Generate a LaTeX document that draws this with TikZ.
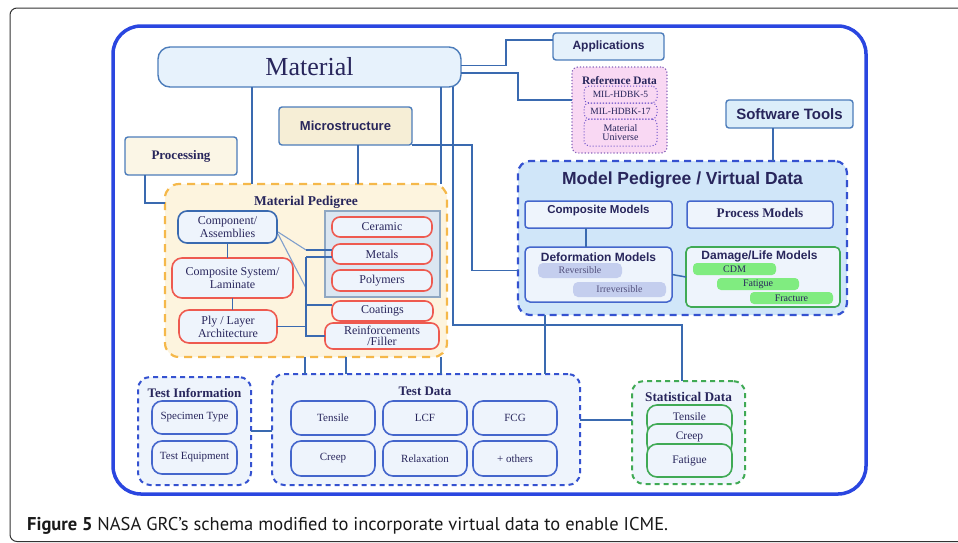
\documentclass[tikz,border=0pt]{standalone}
\usepackage{fontspec}
\setmainfont{Liberation Serif}
\setsansfont{Liberation Sans}
\newfontfamily\capfont{PT Sans}
\usetikzlibrary{calc}

\definecolor{ink}{HTML}{28265C}
\definecolor{outerblue}{HTML}{2A46E0}
\definecolor{lnk}{HTML}{3A6AB0}
\definecolor{bord}{HTML}{4C7CBA}
\definecolor{matfill}{HTML}{E7F2FC}
\definecolor{microfill}{HTML}{F6EED6}
\definecolor{procfill}{HTML}{FBF6E6}
\definecolor{appfill}{HTML}{E5F1FB}
\definecolor{swfill}{HTML}{DCEEFA}
\definecolor{reffill}{HTML}{F9D8F3}
\definecolor{refbord}{HTML}{8866BB}
\definecolor{mpvfill}{HTML}{D0E6F9}
\definecolor{dashblue}{HTML}{3552D0}
\definecolor{paleblue}{HTML}{EEF4FC}
\definecolor{modbord}{HTML}{4466CC}
\definecolor{greenbord}{HTML}{40AA55}
\definecolor{pillgreen}{HTML}{80EC80}
\definecolor{pillblue}{HTML}{C4CEEE}
\definecolor{orangedash}{HTML}{F5B84A}
\definecolor{mpdfill}{HTML}{FDF4DE}
\definecolor{redbord}{HTML}{EE5A50}
\definecolor{grayfill}{HTML}{DBE6F1}
\definecolor{graybord}{HTML}{8FA7C2}
\definecolor{framegray}{HTML}{333333}

% box given by its corners: style, x1, y1, x2, y2, name
\newcommand\rbox[6]{\node[#1,minimum width={(#4)-(#2)},minimum height={(#5)-(#3)}] (#6) at ({((#2)+(#4))/2},{((#3)+(#5))/2})}

\tikzset{
  base/.style={inner sep=0pt, outer sep=0pt, text=ink, align=center},
  conn/.style={draw=lnk, line width=1.5pt},
  diag/.style={draw=lnk!65!white, line width=1.1pt},
  serifsz/.style={font=\fontsize{#1}{#1}\selectfont},
  boldserif/.style={font=\bfseries\fontsize{#1}{#1}\selectfont},
  boldsans/.style={font=\sffamily\bfseries\fontsize{#1}{#1}\selectfont},
  matbox/.style={base, draw=bord, fill=matfill, line width=1.4pt, rounded corners=12pt},
  topbox/.style={base, draw=bord, line width=1.4pt, rounded corners=3pt},
  refbox/.style={base, draw=refbord, fill=reffill, line width=1.2pt, dotted, rounded corners=6pt},
  refitem/.style={base, draw=refbord!80!blue, line width=1pt, dotted, rounded corners=5pt, serifsz=9.5},
  mpvbox/.style={base, draw=dashblue, fill=mpvfill, line width=2.2pt, dash pattern=on 7pt off 5pt, rounded corners=12pt},
  modbox/.style={base, draw=modbord, fill=paleblue, line width=1.5pt, rounded corners=3pt},
  dlbox/.style={base, draw=greenbord, fill=paleblue, line width=1.6pt, rounded corners=5pt},
  bpill/.style={base, fill=pillblue, rounded corners=5pt, serifsz=10, text=ink!80!white},
  gpill/.style={base, fill=pillgreen, rounded corners=4pt, serifsz=10},
  mpdbox/.style={base, draw=orangedash, fill=mpdfill, line width=2.2pt, dash pattern=on 8pt off 6pt, rounded corners=14pt},
  bluebox/.style={base, draw=bord, fill=paleblue, line width=1.6pt, rounded corners=9pt, serifsz=12},
  redbox/.style={base, draw=redbord, fill=paleblue, line width=1.6pt, rounded corners=8pt, serifsz=12},
  graybox/.style={base, draw=graybord, fill=grayfill, line width=1.2pt},
  tbox/.style={base, draw=dashblue, fill=paleblue, line width=2pt, dash pattern=on 5pt off 4pt, rounded corners=12pt},
  titem/.style={base, draw=modbord, fill=paleblue, line width=1.6pt, rounded corners=10pt, serifsz=11},
  sbox/.style={base, draw=greenbord, fill=paleblue, line width=2pt, dash pattern=on 5pt off 4pt, rounded corners=12pt},
  sitem/.style={base, draw=greenbord, fill=paleblue, line width=1.6pt, rounded corners=10pt, serifsz=11.5},
}

\begin{document}
\begin{tikzpicture}[x=1pt,y=-1pt]
\useasboundingbox (0,0) rectangle (958,542);

% figure frame and caption
\draw[framegray, line width=1pt, rounded corners=7pt] (975,8) -- (10,8) -- (10,541.5) -- (975,541.5);
\node[anchor=base west, inner sep=0pt, text=black!90] (cap) at (27,530.5)
  {\capfont\fontsize{18.5}{20}\selectfont\textbf{Figure 5} NASA GRC’s schema modified to incorporate virtual data to enable ICME.};

% outer container
\draw[outerblue, line width=3.5pt, rounded corners=28pt] (113,26) rectangle (866,494);

% top row
\rbox{matbox, serifsz=26}{158}{47}{461}{87}{mat}{Material};
\rbox{topbox, fill=microfill, boldsans=13}{279}{107}{412}{145}{micro}{Microstructure};
\rbox{topbox, fill=procfill, boldserif=13}{125}{137}{237}{175}{proc}{Processing};
\rbox{topbox, fill=appfill, boldsans=12}{553}{33}{664}{60}{app}{Applications};
\rbox{topbox, fill=swfill, boldsans=15}{726}{100}{853}{128}{sw}{Software Tools};

% reference data
\rbox{refbox}{572}{67}{667}{153}{ref}{};
\node[base, boldserif=11.4] (refT) at (619.5,80.5) {Reference Data};
\rbox{refitem}{584}{86}{657}{103}{hdbk5}{MIL-HDBK-5};
\rbox{refitem}{584}{103}{657}{119}{hdbk17}{MIL-HDBK-17};
\rbox{refitem, align=center}{584}{119}{657}{146}{univ}{\fontsize{10}{10}\selectfont Material\\[-0.5pt]\fontsize{10}{10}\selectfont Universe};

% model pedigree / virtual data
\rbox{mpvbox}{518}{161}{847}{315}{mpv}{};
\node[base, boldsans=17.5] (mpvT) at (682.5,180.5) {Model Pedigree / Virtual Data};
\rbox{modbox}{525}{201}{672}{228}{cm}{};
\node[base, boldsans=11.5] (cmT) at (598.5,210.5) {Composite Models};
\rbox{modbox}{687}{201}{833}{228}{pm}{};
\node[base, boldserif=13.2] (pmT) at (760,212.5) {Process Models};
\rbox{modbox, rounded corners=5pt}{525}{247}{672}{302}{dm}{};
\node[base, boldsans=12] (dmT) at (598.5,257) {Deformation Models};
\rbox{bpill}{538}{263}{622}{278}{rev}{Reversible};
\rbox{bpill}{573}{282}{666}{297}{irr}{Irreversible};
\rbox{dlbox}{686}{247}{840}{307}{dl}{};
\node[base, boldsans=12] (dlT) at (759.5,256) {Damage/Life Models};
\rbox{gpill}{693}{263}{776}{275}{cdm}{CDM};
\rbox{gpill}{717}{278}{799}{290}{fat}{Fatigue};
\rbox{gpill}{750}{292}{833}{304}{frac}{Fracture};

% material pedigree
\rbox{mpdbox}{165}{184}{447}{357}{mpd}{};
\node[base, boldserif=13.5] (mpdT) at (306,202) {Material Pedigree};
\rbox{bluebox, draw=lnk}{178}{211}{277}{243}{comp}{Component/\\[1pt]Assemblies};
\rbox{redbox, rounded corners=10pt}{172}{258}{293}{298}{csl}{Composite System/\\[1pt]Laminate};
\rbox{redbox, rounded corners=10pt}{179}{310}{277}{343}{ply}{Ply / Layer\\[1pt]Architecture};
\rbox{graybox}{325}{211}{440}{297}{grp}{};
\rbox{redbox}{332}{217}{432}{237}{cer}{Ceramic};
\rbox{redbox}{332}{244}{432}{264}{metals}{Metals};
\rbox{redbox}{332}{270}{432}{291}{poly}{Polymers};
\rbox{redbox}{332}{301}{433}{321}{coat}{Coatings};
\rbox{redbox}{325}{323}{439}{349}{reinf}{Reinforcements\\[-1pt]/Filler};

% test information and test data
\rbox{tbox}{138}{377}{251}{485}{ti}{};
\node[base, boldserif=13] (tiT) at (194.5,393) {Test Information};
\rbox{titem}{152}{401}{237}{434}{spec}{Specimen Type};
\rbox{titem}{152}{441}{237}{474}{equip}{Test Equipment};
\rbox{tbox}{272}{374}{580}{485}{td}{};
\node[base, boldserif=13] (tdT) at (425,391) {Test Data};
\rbox{titem}{291}{401}{375}{435}{tens}{Tensile};
\rbox{titem}{383}{401}{467}{435}{lcf}{LCF};
\rbox{titem}{473}{401}{557}{435}{fcg}{FCG};
\rbox{titem}{291}{441}{375}{476}{creep}{Creep};
\rbox{titem}{383}{441}{467}{476}{relax}{Relaxation};
\rbox{titem}{473}{441}{557}{476}{others}{+ others};

% statistical data
\rbox{sbox}{632}{381}{745}{484}{stat}{};
\node[base, boldserif=13.3] (statT) at (688.5,397) {Statistical Data};
\rbox{sitem}{647}{405}{732}{434}{sten}{};
\node[base, serifsz=11.5] (stenT) at (689.5,417) {Tensile};
\rbox{sitem}{647}{424}{732}{454}{screep}{};
\node[base, serifsz=11.5] (screepT) at (689.5,437) {Creep};
\rbox{sitem}{647}{444}{732}{477}{sfat}{Fatigue};

% connectors from Material
\draw[conn] ($(mat.east)+(0,-1.5)$) -- ++(45,0) |- ($(app.west)+(0,-6.5)$);
\draw[conn] ($(mat.east)+(0,6)$) -- ++(57,0) |- ($(ref.west)+(0,-10)$);
\draw[conn] ($(mat.south west)+(94,0)$) -- ($(mat.south west |- mpd.north)+(94,0)$);
\draw[conn] ($(mat.south west)+(283,0)$) -- ($(mat.south west |- mpd.north)+(283,0)$);
\coordinate (j1) at (682,325);
\draw[conn] ($(mat.south west)+(295,0)$) |- (j1) -- (j1 |- stat.north);

% connectors from Microstructure and Processing
\draw[conn] (micro.south east) -- ++(60,0) |- ($(mpv.west)+(0,32.5)$);
\draw[conn] ($(micro.south)+(12.5,0)$) -- ($(micro.south |- mpd.north)+(12.5,0)$);
\draw[conn] ($(proc.south west)+(20,0)$) |- ($(mpd.west)+(0,-67.5)$);

% software tools and model pedigree internals
\draw[conn] ($(sw.south)+(-16.5,0)$) -- ($(sw.south |- mpv.north)+(-16.5,0)$);
\draw[conn] ($(cm.south)+(-12.5,0)$) -- ($(cm.south |- dm.north)+(-12.5,0)$);
\draw[conn] (dm.east) -- (dl.west);

% material pedigree internals
\draw[conn] (comp.south) -- (comp.south |- csl.north);
\draw[conn] (csl.south) -- (csl.south |- ply.north);
\coordinate (bt) at ($(metals.west)+(-26,3)$);
\coordinate (bb) at (bt |- reinf.west);
\coordinate (dj) at ($(metals.west)+(-26,-4)$);
\draw[diag] ($(comp.east)+(1,5)$) -- (dj);
\draw[diag] ($(comp.east)+(1,7)$) -- ($(bt)+(0,31)$);
\draw[conn] (dj) -- (dj -| metals.west);
\draw[conn] (bt) -- (bb) -- (reinf.west);
\draw[conn] (bt) -- (bt -| metals.west);
\draw[conn] (ply.east) -- (ply.east -| bt);
\draw[conn] ($(coat.west)+(0,-6)$) -- ($(coat.west -| bt)+(0,-6)$);

% links down to the test data
\draw[conn] ($(mpd.south west)+(140,0)$) -- ($(mpd.south west |- td.north)+(140,0)$);
\draw[conn] ($(mpd.south west)+(181,0)$) -- ($(mpd.south west |- td.north)+(181,0)$);
\draw[conn] ($(mpd.south west)+(276,0)$) -- ($(mpd.south west |- td.north)+(276,0)$);
\draw[conn] (j1 -| td.north) ++(119,0) coordinate (j2);
\draw[conn] (j2 |- mpv.south) -- (j2 |- td.north);
\draw[conn] (ti.east) -- (ti.east -| td.west);
\draw[conn] ($(td.east)+(0,-9.5)$) -- ($(td.east -| stat.west)+(0,-9.5)$);
\end{tikzpicture}
\end{document}
